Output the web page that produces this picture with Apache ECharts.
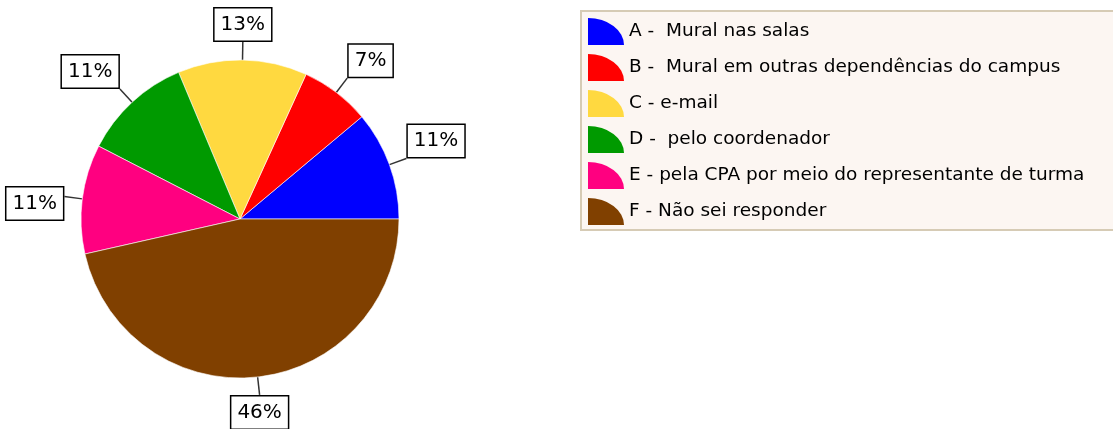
<!DOCTYPE html>
<html>
<head>
<meta charset="utf-8">
<script src="https://cdn.jsdelivr.net/npm/echarts@6/dist/echarts.min.js"></script>
<style>
  html, body { margin: 0; padding: 0; background: #ffffff; }
  #chart { width: 1113px; height: 429px; }
</style>
</head>
<body>
<div id="chart"></div>
<script>
// Response categories and their percentage shares
const categories = [
  'A -  Mural nas salas',
  'B -  Mural em outras dependências do campus',
  'C - e-mail',
  'D -  pelo coordenador',
  'E - pela CPA por meio do representante de turma',
  'F - Não sei responder'
];
const percentages = [11, 7, 13, 11, 11, 46];
const sliceColors = ['#0000ff', '#ff0000', '#ffd940', '#009a00', '#ff0080', '#804000'];

const chart = echarts.init(document.getElementById('chart'), null, { renderer: 'canvas' });

const seriesData = categories.map((name, i) => ({
  name: name,
  value: percentages[i],
  itemStyle: { color: sliceColors[i] }
}));

// Attach each boxed label to the end of its leader line: the box edge
// (or corner, for diagonal lines) facing the pie sits on the line end.
function placeLabel(params) {
  const pts = params.labelLinePoints;
  if (!pts) return {};
  const p0 = pts[0], p1 = pts[1];
  let dx = p1[0] - p0[0], dy = p1[1] - p0[1];
  const len = Math.sqrt(dx * dx + dy * dy) || 1;
  dx /= len; dy /= len;
  const w = params.labelRect.width, h = params.labelRect.height;
  let cx = p1[0], cy = p1[1];
  if (dx > 0.3) cx += w / 2;
  else if (dx < -0.3) cx -= w / 2;
  if (dy > 0.3) cy += h / 2;
  else if (dy < -0.3) cy -= h / 2;
  else cy += h * 0.2;
  return {
    x: cx,
    y: cy,
    align: 'center',
    verticalAlign: 'middle',
    labelLinePoints: [p0, p1, p1]
  };
}

chart.setOption({
  animation: false,
  backgroundColor: '#ffffff',
  legend: {
    orient: 'vertical',
    left: 581,
    top: 11,
    padding: [7, 60, 5, 7],
    itemWidth: 36,
    itemHeight: 27,
    itemGap: 9,
    icon: 'path://M0,0 A1,1 0 0 1 1,1 L0,1 Z',
    symbolKeepAspect: false,
    itemStyle: { borderWidth: 0 },
    backgroundColor: '#fcf6f2',
    borderColor: '#d6cbb5',
    borderWidth: 2,
    borderRadius: 0,
    selectedMode: false,
    textStyle: {
      fontFamily: 'DejaVu Sans',
      fontSize: 18.5,
      color: '#000000'
    },
    data: categories
  },
  series: [{
    type: 'pie',
    center: [240, 219],
    radius: 159,
    startAngle: 0,
    clockwise: false,
    avoidLabelOverlap: false,
    itemStyle: { borderColor: '#ffffff', borderWidth: 0.6 },
    label: {
      show: true,
      position: 'outside',
      formatter: '{c}%',
      fontFamily: 'DejaVu Sans',
      fontSize: 20,
      color: '#000000',
      backgroundColor: '#ffffff',
      borderColor: '#000000',
      borderWidth: 1.5,
      padding: [4, 6, 4, 6],
      lineHeight: 24
    },
    labelLine: {
      show: true,
      length: 18,
      length2: 0,
      smooth: false,
      lineStyle: { color: '#333333', width: 1.5 }
    },
    labelLayout: placeLabel,
    emphasis: { disabled: true },
    data: seriesData
  }]
});
</script>
</body>
</html>
